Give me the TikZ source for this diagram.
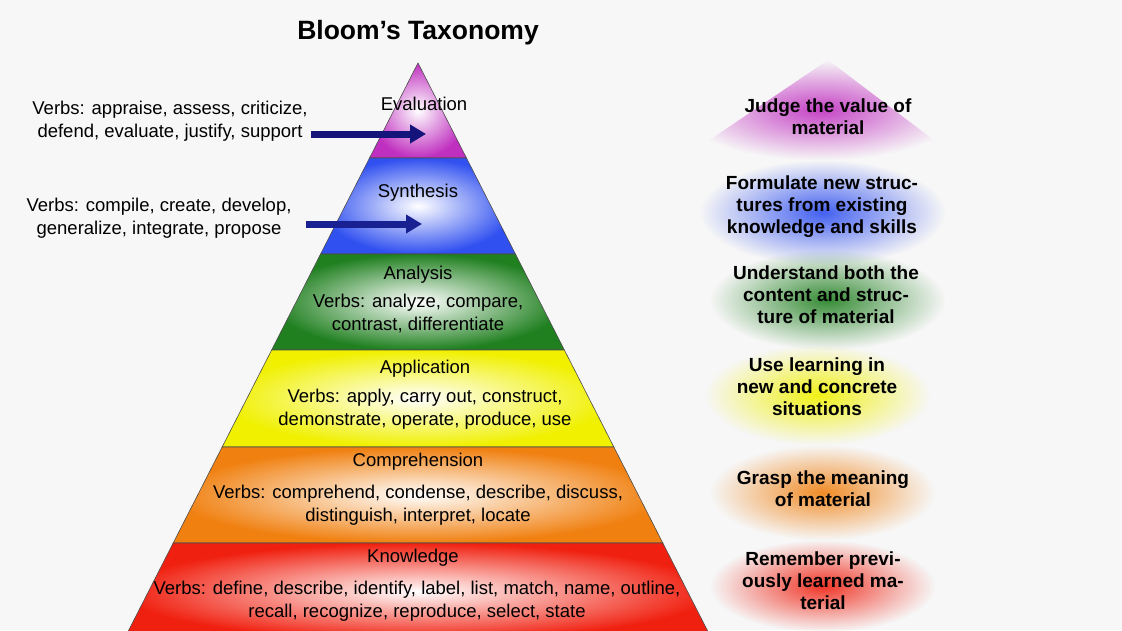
\documentclass[tikz,border=0pt]{standalone}
\usepackage{fontspec}
\setmainfont{Liberation Sans}
\usetikzlibrary{fadings,arrows.meta}
\definecolor{evc}{HTML}{C030C0}
\definecolor{syc}{HTML}{3050F0}
\definecolor{anc}{HTML}{208020}
\definecolor{apc}{HTML}{F0F000}
\definecolor{coc}{HTML}{F08010}
\definecolor{knc}{HTML}{F02010}
\definecolor{arc}{HTML}{14147A}
\tikzfading[name=softglow, inner color=transparent!10, outer color=transparent!100]
\tikzset{
  lay/.style={draw=black!70, line width=0.6pt, shading=radial, inner color=white, outer color=#1},
  plab/.style={font=\fontsize{18.5}{23}\selectfont, align=center, inner sep=0},
  rlab/.style={font=\bfseries\fontsize{19}{22}\selectfont, align=center, inner sep=0},
  glow/.style={fill=#1, path fading=softglow},
  bigarrow/.style={line width=7pt, -{Triangle[length=16pt,width=18pt]}}
}
\pgfmathsetmacro{\k}{0.51}
\begin{document}
\begin{tikzpicture}[x=1pt,y=-1pt]
\useasboundingbox (0,0) rectangle (1122,630);
\fill[black!3] (0,0) rectangle (1122,630);
\node[font=\bfseries\fontsize{26.5}{30}\selectfont] (title) at (418,33) {Bloom’s Taxonomy};
% pyramid layers
\foreach \ya/\yb/\c in {63/158/evc,158/254/syc,254/350/anc,350/447/apc,447/543/coc,543/640/knc}{
  \path[lay=\c] ({418-\k*(\ya-63)},\ya) -- ({418+\k*(\ya-63)},\ya) -- ({418+\k*(\yb-63)},\yb) -- ({418-\k*(\yb-63)},\yb) -- cycle;
}
\node[plab] (ev) at (424,104) {Evaluation};
\node[plab] (sy) at (418,193) {Synthesis};
\node[plab] (an) at (418,275) {Analysis};
\node[plab] (anv) at (418,313) {Verbs: analyze, compare,\\contrast, differentiate};
\node[plab] (ap) at (425,369) {Application};
\node[plab] (apv) at (425,409) {Verbs: apply, carry out, construct,\\demonstrate, operate, produce, use};
\node[plab] (co) at (418,462) {Comprehension};
\node[plab] (cov) at (418,505) {Verbs: comprehend, condense, describe, discuss,\\distinguish, interpret, locate};
\node[plab] (kn) at (413,558) {Knowledge};
\node[plab] (knv) at (417,601) {Verbs: define, describe, identify, label, list, match, name, outline,\\recall, recognize, reproduce, select, state};
% left verbs
\node[plab] (lv1) at (170,121) {Verbs: appraise, assess, criticize,\\defend, evaluate, justify, support};
\node[plab] (lv2) at (159,218) {Verbs: compile, create, develop,\\generalize, integrate, propose};
\coordinate (a1s) at (311,134); \coordinate (a1e) at (426,134);
\coordinate (a2s) at (306,224); \coordinate (a2e) at (422,224);
\draw[bigarrow, arc] (a1s) -- (a1e);
\draw[bigarrow, arc!80!syc] (a2s) -- (a2e);
% right glows
\fill[evc, path fading=softglow] (828,60) -- (960,160) -- (680,160) -- cycle;
\fill[glow=syc] (700,160) rectangle (945,265);
\fill[glow=anc] (710,250) rectangle (945,350);
\fill[glow=apc] (705,345) rectangle (930,445);
\fill[glow=coc] (710,445) rectangle (935,540);
\fill[glow=knc] (710,540) rectangle (935,632);
\node[rlab] (r1) at (828,117) {Judge the value of\\material};
\node[rlab] (r2) at (822,207) {Formulate new struc-\\tures from existing\\knowledge and skills};
\node[rlab] (r3) at (826,295) {Understand both the\\content and struc-\\ture of material};
\node[rlab] (r4) at (817,387) {Use learning in\\new and concrete\\situations};
\node[rlab] (r5) at (823,489) {Grasp the meaning\\of material};
\node[rlab] (r6) at (823,581) {Remember previ-\\ously learned ma-\\terial};
\end{tikzpicture}
\end{document}
